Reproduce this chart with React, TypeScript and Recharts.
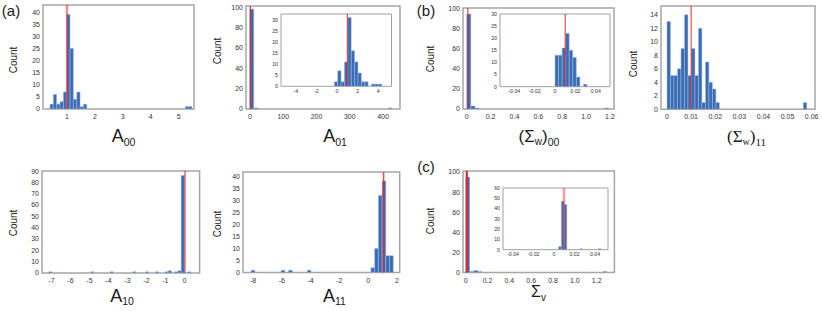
import React from "react";
import { BarChart, Bar, XAxis, YAxis, ReferenceLine, ReferenceArea } from "recharts";

// ---- (a) A00
const a00Bins = [0.45, 0.57, 0.69, 0.81, 0.93, 1.05, 1.17, 1.29, 1.41, 1.53, 1.65, 5.3, 5.42];
const a00Counts = [2, 6, 2, 3, 7, 39, 25, 4, 7, 1, 2, 1, 1];
const a00XTicks = [1, 2, 3, 4, 5];
const a00YTicks = [0, 5, 10, 15, 20, 25, 30, 35, 40];

// ---- (a) A01 + inset
const a01Bins = [5.5, 17.5, 421];
const a01Counts = [98, 1, 1];
const a01XTicks = [0, 100, 200, 300, 400];
const a01YTicks = [0, 20, 40, 60, 80, 100];

const a01InsetBins = [-0.1, 0.23, 0.56, 0.89, 1.22, 1.55, 1.88, 2.21, 2.54, 2.87, 3.53, 3.86, 4.19];
const a01InsetCounts = [2, 7, 2, 11, 31, 16, 11, 6, 2, 2, 1, 1, 1];
const a01InsetXTicks = [-4, -2, 0, 2, 4];
const a01InsetYTicks = [0, 5, 10, 15, 20, 25, 30];

// ---- (a) A10, A11
const a10Bins = [-7.055, -4.845, -3.825, -2.635, -1.955, -1.445, -0.935, -0.765, -0.425, -0.255, -0.085, 0.255];
const a10Counts = [1, 1, 1, 1, 1, 1, 1, 2, 1, 2, 86, 1];
const a10XTicks = [-7, -6, -5, -4, -3, -2, -1, 0];
const a10YTicks = [0, 10, 20, 30, 40, 50, 60, 70, 80, 90];

const a11Bins = [-8.0, -5.92, -5.4, -4.1, 0.32, 0.58, 0.84, 1.1, 1.36, 1.62];
const a11Counts = [1, 1, 1, 1, 2, 10, 32, 38, 7, 7];
const a11XTicks = [-8, -6, -4, -2, 0, 2];
const a11YTicks = [0, 5, 10, 15, 20, 25, 30, 35, 40];

// ---- (b) (Sigma_w)00 + inset, (Sigma_w)11
const sw00Bins = [0.0175, 0.0525, 0.0875, 1.1725];
const sw00Counts = [95, 3, 1, 1];
const sw00XTicks = [0, 0.2, 0.4, 0.6, 0.8, 1.0, 1.2];
const sw00YTicks = [0, 20, 40, 60, 80, 100];

const sw00InsetBins = [0.00175, 0.00525, 0.00875, 0.01225, 0.01575, 0.01925, 0.02275, 0.02975];
const sw00InsetCounts = [13, 13, 16, 22, 15, 12, 4, 1];
const smallXTicks = [-0.04, -0.02, 0, 0.02, 0.04];
const sw00InsetYTicks = [0, 5, 10, 15, 20, 25, 30];

const sw11Bins = [
  0.000725, 0.002175, 0.003625, 0.005075, 0.006525, 0.007975, 0.009425, 0.010875,
  0.012325, 0.013775, 0.015225, 0.016675, 0.018125, 0.019575, 0.021025, 0.057275,
];
const sw11Counts = [13, 5, 5, 6, 9, 14, 5, 9, 5, 12, 1, 7, 4, 3, 1, 1];
const sw11XTicks = [0, 0.01, 0.02, 0.03, 0.04, 0.05, 0.06];
const sw11YTicks = [0, 2, 4, 6, 8, 10, 12, 14];

// ---- (c) Sigma_v + inset
const svBins = [0.0185, 0.0555, 0.0925, 0.1295, 1.2765];
const svCounts = [95, 1, 2, 1, 1];
const svXTicks = [0, 0.2, 0.4, 0.6, 0.8, 1.0, 1.2];
const svYTicks = [0, 20, 40, 60, 80, 100];

const svInsetBins = [0.0058, 0.0085, 0.0112, 0.0265, 0.0445];
const svInsetCounts = [3, 47, 44, 1, 1];
const svInsetYTicks = [0, 10, 20, 30, 40, 50, 60];

const SANS = "'Liberation Sans', Arial, sans-serif";
const SERIF = "'Liberation Serif', 'Times New Roman', serif";
const BLUE = "#3a6cb4";
const fmt1 = (v: number) => (v === 0 ? "0" : v.toFixed(1));

type HistProps = {
  box: [number, number, number, number];
  xDomain: [number, number];
  yDomain: [number, number];
  xTicks: number[];
  yTicks: number[];
  bins: number[];
  counts: number[];
  binWidth: number;
  refX: number;
  refColor?: string;
  refOpacity?: number;
  refWidth?: number;
  inset?: boolean;
  xFmt?: (v: number) => string;
};

function Hist(p: HistProps) {
  const [x0, y0, x1, y1] = p.box;
  const yW = 30;
  const xH = 16;
  const pad = 3;
  const w = x1 - x0;
  const h = y1 - y0;
  const pxPerUnit = w / (p.xDomain[1] - p.xDomain[0]);
  const barSize = Math.max(1, p.binWidth * pxPerUnit * 0.98);
  const data = p.bins.map((x, i) => ({ x, n: p.counts[i] }));
  const tick = {
    fontSize: p.inset ? 5.2 : 7,
    fill: "#333",
    fontFamily: SANS,
  };
  return (
    <div style={{ position: "absolute", left: x0 - yW - pad, top: y0 - pad }}>
      <BarChart
        width={w + yW + 2 * pad}
        height={h + xH + 2 * pad}
        data={data}
        margin={{ top: pad, right: pad, bottom: pad, left: pad }}
      >
        <XAxis
          type="number"
          dataKey="x"
          domain={p.xDomain}
          ticks={p.xTicks}
          interval={0}
          allowDataOverflow
          height={xH}
          tickSize={0}
          tickMargin={p.inset ? 3 : 5}
          axisLine={false}
          tickLine={false}
          tick={tick}
          tickFormatter={p.xFmt}
        />
        <YAxis
          type="number"
          domain={p.yDomain}
          ticks={p.yTicks}
          interval={0}
          allowDataOverflow
          width={yW}
          tickSize={0}
          tickMargin={3}
          axisLine={false}
          tickLine={false}
          tick={tick}
        />
        <Bar
          dataKey="n"
          barSize={barSize}
          fill={BLUE}
          stroke="#9fbbe2"
          strokeWidth={0.5}
          isAnimationActive={false}
        />
        <ReferenceLine
          x={p.refX}
          stroke={p.refColor ?? "#e02a2a"}
          strokeOpacity={p.refOpacity ?? 1}
          strokeWidth={p.refWidth ?? 1}
        />
        <ReferenceArea
          x1={p.xDomain[0]}
          x2={p.xDomain[1]}
          y1={p.yDomain[0]}
          y2={p.yDomain[1]}
          fill="none"
          stroke={p.inset ? "#a0a0a0" : "#a6a6a6"}
          strokeWidth={p.inset ? 1 : 1.5}
        />
      </BarChart>
    </div>
  );
}

function Count({ cx, cy }: { cx: number; cy: number }) {
  return (
    <div
      style={{
        position: "absolute",
        left: cx,
        top: cy,
        transform: "translate(-50%, -50%) rotate(-90deg)",
        fontSize: 10,
        lineHeight: 1,
        whiteSpace: "nowrap",
        fontFamily: SANS,
        color: "#222",
      }}
    >
      Count
    </div>
  );
}

function Label({
  cx,
  base,
  fs,
  family = SANS,
  children,
}: {
  cx: number;
  base: number;
  fs: number;
  family?: string;
  children: React.ReactNode;
}) {
  return (
    <div
      style={{
        position: "absolute",
        left: cx,
        top: base - 0.8465 * fs,
        transform: "translateX(-50%)",
        fontSize: fs,
        lineHeight: 1,
        whiteSpace: "nowrap",
        fontFamily: family,
        color: "#1a1a1a",
      }}
    >
      {children}
    </div>
  );
}

const Sub = ({ fs, dy, children }: { fs: number; dy: number; children: React.ReactNode }) => (
  <span style={{ fontSize: fs, position: "relative", top: dy }}>{children}</span>
);

export default function App() {
  return (
    <div
      style={{
        position: "absolute",
        left: 0,
        top: 0,
        width: 822,
        height: 311,
        background: "#fff",
        overflow: "hidden",
        fontFamily: SANS,
      }}
    >
      {/* panel letters */}
      <Label cx={11} base={15.5} fs={15}>(a)</Label>
      <Label cx={426} base={16} fs={15}>(b)</Label>
      <Label cx={426} base={172} fs={15}>(c)</Label>

      {/* A00 */}
      <Hist
        box={[43, 5, 194, 109]}
        xDomain={[0.14, 5.55]}
        yDomain={[0, 42.9]}
        xTicks={a00XTicks}
        yTicks={a00YTicks}
        bins={a00Bins}
        counts={a00Counts}
        binWidth={0.12}
        refX={1.0}
        refColor="#e8262b"
        refOpacity={0.55}
        refWidth={2.3}
      />
      <Count cx={14} cy={60} />
      <Label cx={123.5} base={142.7} fs={18}>
        A<Sub fs={10.5} dy={3.5}>00</Sub>
      </Label>

      {/* A01 */}
      <Hist
        box={[246, 6, 400, 109]}
        xDomain={[-12, 451]}
        yDomain={[0, 101]}
        xTicks={a01XTicks}
        yTicks={a01YTicks}
        bins={a01Bins}
        counts={a01Counts}
        binWidth={12}
        refX={1}
        refWidth={1.2}
      />
      <Hist
        inset
        box={[281, 14, 391.5, 86.3]}
        xDomain={[-5.45, 5.3]}
        yDomain={[0, 32.6]}
        xTicks={a01InsetXTicks}
        yTicks={a01InsetYTicks}
        bins={a01InsetBins}
        counts={a01InsetCounts}
        binWidth={0.33}
        refX={1}
        refWidth={1}
      />
      <Count cx={218} cy={51} />
      <Label cx={335} base={142.7} fs={18}>
        A<Sub fs={10.5} dy={3.5}>01</Sub>
      </Label>

      {/* (Sigma_w)00 */}
      <Hist
        box={[463, 8, 614, 109]}
        xDomain={[-0.031, 1.234]}
        yDomain={[0, 101]}
        xTicks={sw00XTicks}
        yTicks={sw00YTicks}
        bins={sw00Bins}
        counts={sw00Counts}
        binWidth={0.035}
        refX={0.01}
        refWidth={1}
        xFmt={fmt1}
      />
      <Hist
        inset
        box={[500, 14, 610, 86.7]}
        xDomain={[-0.054, 0.054]}
        yDomain={[0, 30]}
        xTicks={smallXTicks}
        yTicks={sw00InsetYTicks}
        bins={sw00InsetBins}
        counts={sw00InsetCounts}
        binWidth={0.0035}
        refX={0.01}
        refWidth={1}
      />
      <Count cx={431} cy={59} />
      <Label cx={539} base={142} fs={17}>
        (Σ<Sub fs={10} dy={3.5}>w</Sub>)<Sub fs={10.5} dy={4}>00</Sub>
      </Label>

      {/* (Sigma_w)11 */}
      <Hist
        box={[661, 6, 815, 109.3]}
        xDomain={[-0.0025, 0.0614]}
        yDomain={[0, 15.3]}
        xTicks={sw11XTicks}
        yTicks={sw11YTicks}
        bins={sw11Bins}
        counts={sw11Counts}
        binWidth={0.00145}
        refX={0.01}
        refWidth={1}
      />
      <Count cx={634} cy={64} />
      <Label cx={746.5} base={142} fs={17} family={SERIF}>
        (Σ<Sub fs={10} dy={3.5}>w</Sub>)<Sub fs={11} dy={4}>11</Sub>
      </Label>

      {/* A10 */}
      <Hist
        box={[41.7, 170.7, 199.3, 272.7]}
        xDomain={[-7.5, 0.8]}
        yDomain={[0, 90]}
        xTicks={a10XTicks}
        yTicks={a10YTicks}
        bins={a10Bins}
        counts={a10Counts}
        binWidth={0.17}
        refX={0.03}
        refColor="#e8262b"
        refOpacity={0.6}
        refWidth={1.8}
      />
      <Count cx={14} cy={223} />
      <Label cx={122} base={302} fs={18}>
        A<Sub fs={10.5} dy={3.5}>10</Sub>
      </Label>

      {/* A11 */}
      <Hist
        box={[243.3, 171.7, 400, 272.3]}
        xDomain={[-8.7, 2.19]}
        yDomain={[0, 41.7]}
        xTicks={a11XTicks}
        yTicks={a11YTicks}
        bins={a11Bins}
        counts={a11Counts}
        binWidth={0.26}
        refX={1.07}
        refColor="#e8262b"
        refOpacity={0.8}
        refWidth={1.6}
      />
      <Count cx={218} cy={224} />
      <Label cx={334.5} base={302} fs={18}>
        A<Sub fs={10.5} dy={3.5}>11</Sub>
      </Label>

      {/* Sigma_v */}
      <Hist
        box={[463.3, 170.7, 614.7, 272.3]}
        xDomain={[-0.025, 1.362]}
        yDomain={[0, 101]}
        xTicks={svXTicks}
        yTicks={svYTicks}
        bins={svBins}
        counts={svCounts}
        binWidth={0.037}
        refX={0.01}
        refWidth={2.2}
        xFmt={fmt1}
      />
      <Hist
        inset
        box={[503.3, 188.3, 608.3, 250]}
        xDomain={[-0.0498, 0.0527]}
        yDomain={[0, 60]}
        xTicks={smallXTicks}
        yTicks={svInsetYTicks}
        bins={svInsetBins}
        counts={svInsetCounts}
        binWidth={0.0027}
        refX={0.0097}
        refColor="#e8262b"
        refOpacity={0.45}
        refWidth={2.5}
      />
      <Count cx={431} cy={221} />
      <Label cx={538.5} base={297.5} fs={16}>
        Σ<Sub fs={10} dy={4}>v</Sub>
      </Label>
    </div>
  );
}
